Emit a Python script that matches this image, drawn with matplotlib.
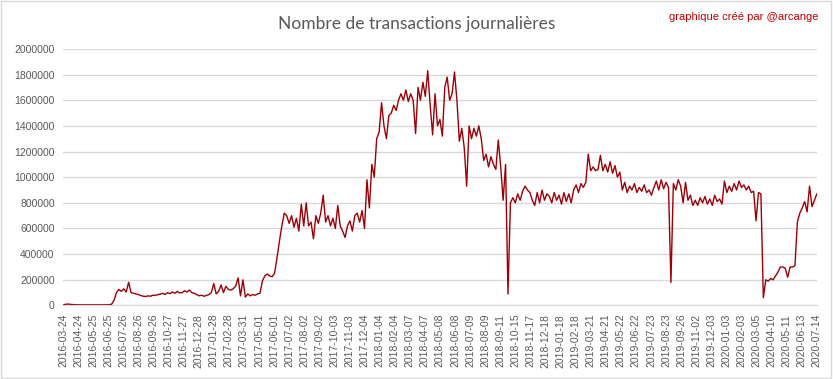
import numpy as np
import matplotlib
matplotlib.use('Agg')
import matplotlib.pyplot as plt
from matplotlib.patches import Rectangle

# une valeur tous les 5 jours
transactions = [
    3000, 9000, 11000, 9000, 7000, 6000, 5000, 5000, 5000, 5000,
    5000, 5000, 5000, 5000, 5000, 5000, 5000, 5000, 5000, 6000,
    10000, 40000, 100000, 125000, 110000, 130000, 105000, 181000, 100000, 95000,
    90000, 85000, 78000, 72000, 70000, 75000, 72000, 80000, 78000, 85000,
    88000, 95000, 85000, 100000, 92000, 105000, 95000, 110000, 98000, 100000,
    115000, 105000, 120000, 100000, 95000, 85000, 75000, 80000, 72000, 78000,
    85000, 100000, 170000, 90000, 110000, 160000, 100000, 150000, 125000, 120000,
    130000, 150000, 215000, 75000, 200000, 65000, 90000, 75000, 85000, 80000,
    90000, 95000, 190000, 230000, 245000, 230000, 225000, 250000, 370000, 500000,
    620000, 720000, 700000, 640000, 700000, 610000, 680000, 580000, 790000, 620000,
    800000, 620000, 650000, 520000, 700000, 640000, 720000, 860000, 650000, 700000,
    620000, 680000, 600000, 780000, 620000, 580000, 530000, 620000, 660000, 580000,
    700000, 720000, 650000, 740000, 600000, 980000, 760000, 1100000, 1000000, 1300000,
    1350000, 1580000, 1400000, 1300000, 1480000, 1500000, 1560000, 1520000, 1600000, 1650000,
    1600000, 1680000, 1590000, 1650000, 1600000, 1340000, 1700000, 1600000, 1740000, 1630000,
    1830000, 1560000, 1330000, 1650000, 1400000, 1450000, 1320000, 1700000, 1780000, 1600000,
    1650000, 1820000, 1600000, 1280000, 1380000, 1230000, 930000, 1400000, 1300000, 1380000,
    1320000, 1400000, 1300000, 1130000, 1180000, 1080000, 1160000, 1100000, 1060000, 1290000,
    1080000, 820000, 1100000, 90000, 800000, 840000, 800000, 870000, 820000, 890000,
    930000, 900000, 880000, 820000, 780000, 880000, 800000, 900000, 820000, 870000,
    850000, 800000, 880000, 820000, 860000, 790000, 880000, 810000, 870000, 800000,
    900000, 940000, 880000, 950000, 920000, 960000, 1180000, 1050000, 1080000, 1050000,
    1060000, 1170000, 1050000, 1100000, 1040000, 1120000, 1030000, 1090000, 1000000, 1040000,
    900000, 960000, 880000, 930000, 900000, 950000, 880000, 920000, 890000, 940000,
    880000, 900000, 860000, 920000, 970000, 900000, 980000, 910000, 960000, 920000,
    180000, 950000, 900000, 980000, 930000, 800000, 960000, 820000, 860000, 780000,
    820000, 780000, 840000, 800000, 850000, 790000, 830000, 780000, 860000, 810000,
    830000, 790000, 970000, 880000, 930000, 890000, 950000, 900000, 970000, 920000,
    940000, 900000, 930000, 880000, 890000, 660000, 880000, 870000, 60000, 200000,
    190000, 210000, 200000, 230000, 260000, 300000, 300000, 290000, 220000, 300000,
    300000, 310000, 650000, 720000, 760000, 810000, 730000, 930000, 770000, 820000,
    870000,
]

dates = [
    '2016-03-24', '2016-04-24', '2016-05-25', '2016-06-25', '2016-07-26',
    '2016-08-26', '2016-09-26', '2016-10-27', '2016-11-27', '2016-12-28',
    '2017-01-28', '2017-02-28', '2017-03-31', '2017-05-01', '2017-06-01',
    '2017-07-02', '2017-08-02', '2017-09-02', '2017-10-03', '2017-11-03',
    '2017-12-04', '2018-01-04', '2018-02-04', '2018-03-07', '2018-04-07',
    '2018-05-08', '2018-06-08', '2018-07-09', '2018-08-09', '2018-09-11',
    '2018-10-15', '2018-11-17', '2018-12-18', '2019-01-18', '2019-02-18',
    '2019-03-21', '2019-04-21', '2019-05-22', '2019-06-22', '2019-07-23',
    '2019-08-23', '2019-09-26', '2019-11-02', '2019-12-03', '2020-01-03',
    '2020-02-03', '2020-03-05', '2020-04-10', '2020-05-11', '2020-06-13',
    '2020-07-14',
]

jours_par_point = 5
jours_par_etiquette = 31

plt.rcParams['font.family'] = ['Liberation Sans', 'DejaVu Sans']

fig = plt.figure(figsize=(8.33, 3.79), dpi=100)
ax = fig.add_axes([0.0756, 0.194, 0.905, 0.677])

x = np.arange(len(transactions)) * jours_par_point
ax.plot(x, transactions, color='#9c0006', linewidth=1.0)

ax.set_xlim(0, (len(dates) - 1) * jours_par_etiquette)
ax.set_ylim(0, 2000000)
ax.set_yticks(range(0, 2000001, 200000))
ax.set_yticklabels([str(v) for v in range(0, 2000001, 200000)])
ax.set_xticks(np.arange(len(dates)) * jours_par_etiquette)
ax.set_xticklabels(dates, rotation=90)

ax.grid(axis='y', color='#d9d9d9', linewidth=1)
ax.set_axisbelow(True)
for s in ['top', 'right', 'left']:
    ax.spines[s].set_visible(False)
ax.spines['bottom'].set_color('#d9d9d9')
ax.tick_params(axis='both', colors='#595959', labelsize=7.5, length=0)
ax.tick_params(axis='x', pad=6)
ax.tick_params(axis='y', pad=6)

fig.text(0.5, 0.937, 'Nombre de transactions journalières', ha='center', va='center',
         fontsize=12.5, color='#595959', family=['Lato', 'DejaVu Sans'])
fig.text(0.983, 0.955, 'graphique créé par @arcange', ha='right', va='center',
         fontsize=8, color='#c00000')

fig.patches.append(Rectangle((0.001, 0.002), 0.997, 0.995, transform=fig.transFigure,
                             fill=False, edgecolor='#d9d9d9', linewidth=1))

fig.savefig('out.png', dpi=100)
